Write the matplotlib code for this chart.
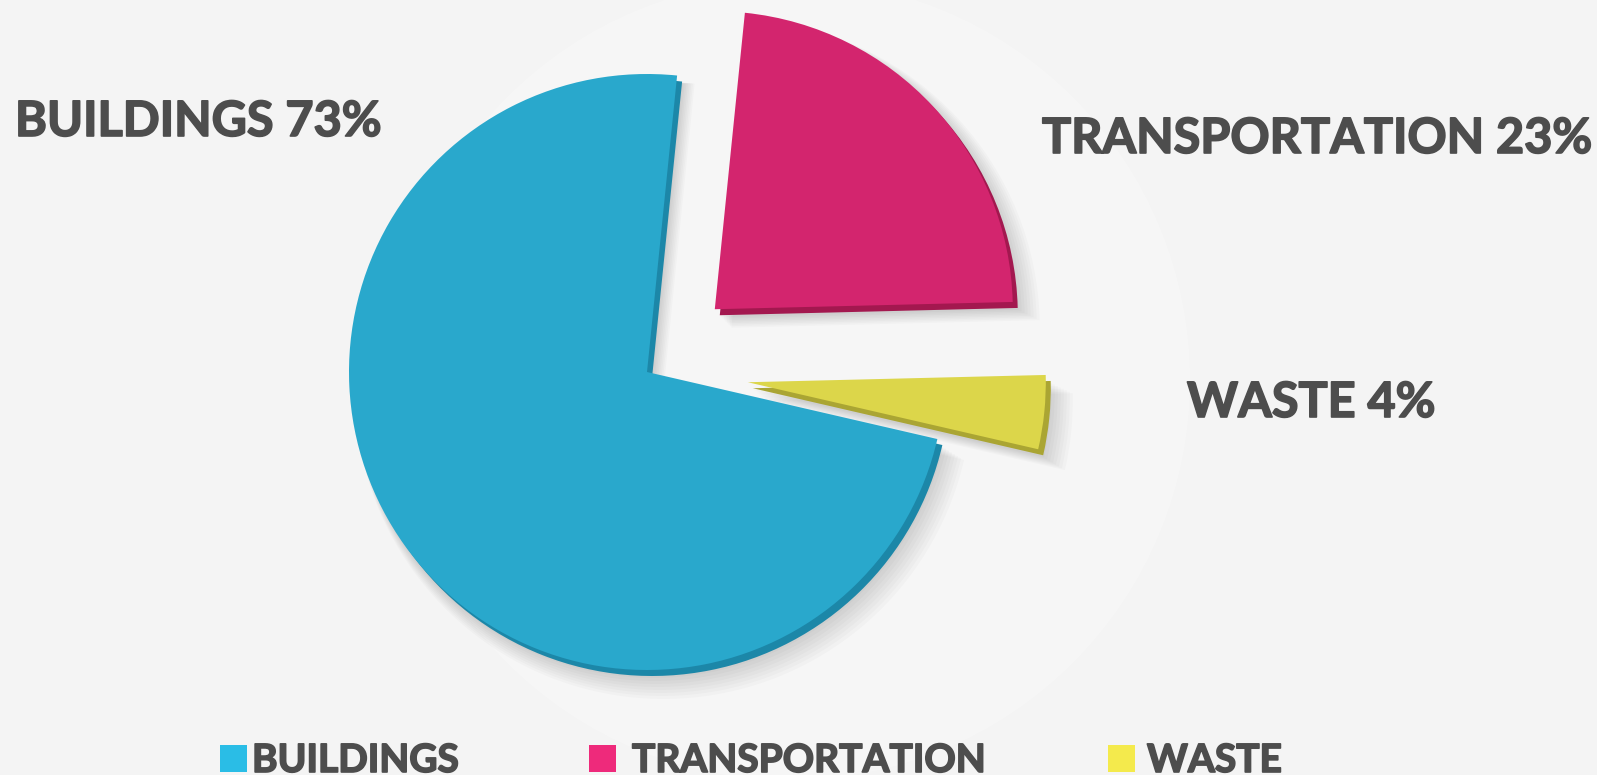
import matplotlib.pyplot as plt
import matplotlib.patheffects as pe
from matplotlib.patches import Circle, Rectangle

# Data
categories = ['BUILDINGS', 'TRANSPORTATION', 'WASTE']
shares = [73, 23, 4]

# Styling
explode_frac = [0, 0.31, 0.34]
face_colors = ['#29a8cc', '#d3256e', '#dcd64a']
side_colors = ['#1c87a8', '#a3184f', '#aaa533']
legend_colors = ['#2abde6', '#ee2a7b', '#f4ea4c']
text_color = '#4d4d4d'
font = ['Lato', 'DejaVu Sans']
bold = [pe.withStroke(linewidth=1.2, foreground=text_color)]

W, H = 1597, 775
cx, cy, r = 647, 403, 298
start = -13
explode = [e * r for e in explode_frac]  # pie explode is in data units

fig = plt.figure(figsize=(W / 100, H / 100), dpi=100)
fig.patch.set_facecolor('#f4f4f4')
ax = fig.add_axes([0, 0, 1, 1])

# faint light disc behind the pie
ax.add_patch(Circle((790, 395), 400, facecolor='white', alpha=0.22, linewidth=0))

# soft drop shadow
for k in range(8):
    ax.pie(shares, explode=explode, startangle=start, counterclock=False,
           radius=r + k * 1.5, center=(cx + 6 + k * 1.5, cy - 8 - k * 1.5),
           colors=['#000000'] * 3, wedgeprops=dict(alpha=0.018, linewidth=0))

# side (depth) of the slices
ax.pie(shares, explode=explode, startangle=start, counterclock=False,
       radius=r, center=(cx + 5, cy - 6),
       colors=side_colors, wedgeprops=dict(linewidth=0))

# top face
ax.pie(shares, explode=explode, startangle=start, counterclock=False,
       radius=r, center=(cx, cy),
       colors=face_colors, wedgeprops=dict(linewidth=0))

ax.set_xlim(0, W)
ax.set_ylim(0, H)
ax.set_aspect('equal')
ax.axis('off')

# slice labels
label_pos = [(15, H - 136), (1042, H - 153), (1187, H - 417)]
for cat, val, (x, y) in zip(categories, shares, label_pos):
    ax.text(x, y, f'{cat} {val}%', ha='left', va='baseline', fontsize=35,
            fontweight='bold', family=font, color=text_color, path_effects=bold)

# legend
legend_x = [220, 589, 1108]
legend_text_x = [252, 632, 1147]
for cat, col, x, tx in zip(categories, legend_colors, legend_x, legend_text_x):
    ax.add_patch(Rectangle((x, 3), 27, 27, facecolor=col, linewidth=0))
    ax.text(tx, 3, cat, ha='left', va='baseline', fontsize=28,
            fontweight='bold', family=font, color=text_color, path_effects=bold)

fig.savefig('out.png', dpi=100, facecolor=fig.get_facecolor())
